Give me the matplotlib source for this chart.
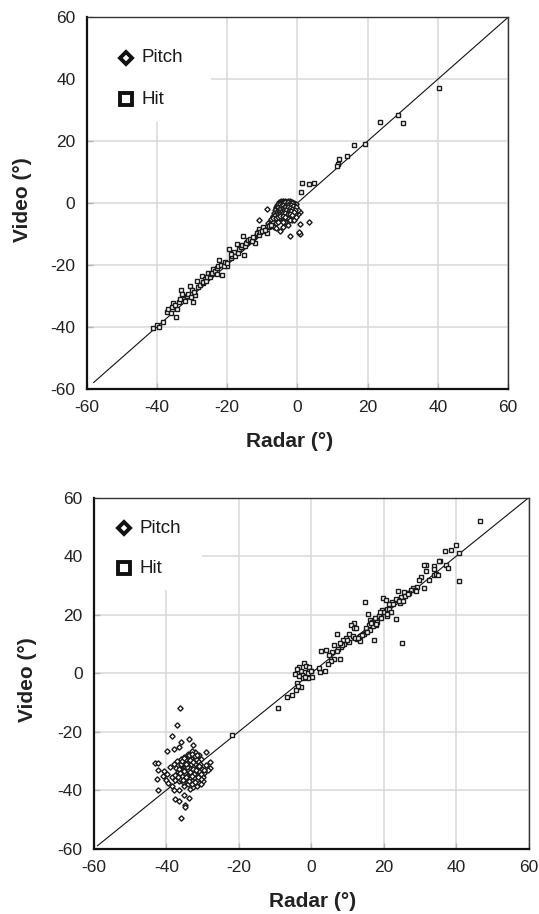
import matplotlib
matplotlib.use('Agg')
import matplotlib.pyplot as plt
from matplotlib.patches import Rectangle

plt.rcParams['font.family'] = ['Liberation Sans', 'DejaVu Sans']
plt.rcParams['axes.unicode_minus'] = False

# ---- data (degrees) ----
ticks = [-60, -40, -20, 0, 20, 40, 60]

# top panel - hit (squares)
top_hit_x = [40.4, 23.5, 28.6, 30.1, 16.2, 19.2, 14.0, 11.9, 11.7, 11.4, 1.2, 0.9, 3.4, 4.6,
             -41.2, -40.0, -39.3, -38.3, -37.2, -36.7, -35.3, -34.5, -34.2, -33.2, -32.9, -32.5,
             -30.6, -29.8, -29.1, -28.7, -27.2, -26.3, -25.4, -23.9, -22.2, -21.5, -19.9, -19.4,
             -18.0, -17.3, -15.6, -15.2, -14.2, -12.1, -11.6, -10.8, -8.7, -9.7,
             -36.0, -35.8, -34.8, -33.8, -33.5, -32.0, -31.5, -31.0, -30.2, -30.0, -29.5, -28.2,
             -27.8, -27.0, -26.8, -26.0, -25.8, -25.0, -24.5, -24.2, -23.5, -23.0, -22.8, -22.5,
             -21.8, -21.0, -20.5, -20.0, -19.0, -18.5, -18.8, -17.8, -17.0, -16.5, -16.0, -15.8,
             -15.0, -14.5, -14.0, -13.5, -13.0, -12.5, -11.0, -10.5, -10.0, -9.2, -8.0, -7.5]
top_hit_y = [37.1, 26.1, 28.3, 25.7, 18.9, 19.1, 15.2, 14.1, 12.6, 11.8, 6.4, 3.5, 6.1, 6.4,
             -40.3, -39.5, -40.0, -38.6, -35.2, -34.3, -32.2, -36.8, -34.1, -28.0, -29.3, -30.9,
             -26.8, -32.0, -29.8, -25.3, -23.6, -24.4, -22.6, -21.4, -18.5, -23.4, -20.4, -15.0,
             -15.8, -13.1, -10.7, -16.9, -12.6, -12.9, -9.6, -8.3, -9.6, -7.8,
             -35.5, -33.5, -33.0, -32.0, -31.0, -31.8, -30.0, -29.5, -30.5, -28.0, -28.8, -27.0,
             -26.5, -26.0, -25.5, -25.2, -24.0, -23.8, -23.0, -22.5, -22.0, -22.8, -21.0, -20.5,
             -20.0, -20.5, -19.0, -19.5, -17.8, -17.0, -16.5, -17.0, -16.0, -15.0, -14.2, -13.5,
             -14.0, -13.0, -12.0, -11.5, -12.2, -11.0, -10.5, -9.5, -9.0, -8.6, -7.5, -7.0]

# top panel - pitch (diamonds)
top_pitch_x = [-8.6, -10.8, -4.9, -2.1, 0.6, 0.8, 0.8, 3.4, 0.8, 0.1, -1.5, 0.5,
               -5.8, -5.2, -4.6, -4.0, -3.4, -2.8, -2.2, -1.6, -1.0, -0.5,
               -6.2, -5.5, -4.9, -4.3, -3.7, -3.1, -2.5, -1.9, -1.3, -0.7,
               -6.0, -5.3, -4.7, -4.1, -3.5, -2.9, -2.3, -1.7, -1.1, -0.4,
               -5.8, -5.1, -4.5, -3.9, -3.3, -2.7, -2.1, -1.5, -0.9, -0.3,
               -6.4, -5.6, -5.0, -4.4, -3.8, -3.2, -2.6, -2.0, -1.4, -0.8,
               -6.8, -6.0, -5.4, -4.8, -4.2, -3.6, -3.0, -2.4, -1.8, -1.2,
               -7.5, -6.5, -5.8, -5.0, -4.4, -3.6, -2.8, -2.2, -3.4, -4.2,
               -8.4, -7.8, -7.0, -6.2, -5.4, -9.0, -8.2, -7.4, -6.6, -9.6,
               -10.4, -11.5, -12.4, -11.0, -6.0, -4.0, -2.6, -1.0, -0.4, 0.2,
               -5.5, -4.8, -4.2, -3.6, -3.0, -2.4, -1.8, -1.2, -5.0, -4.4,
               -3.8, -3.2, -2.6, -2.0, -1.4, -0.6, -4.6, -3.4, -2.2, -1.0,
               -5.6, -4.9, -4.2, -3.5, -2.8, -2.1, -1.4,
               -6.1, -5.4, -4.7, -4.0, -3.3, -2.6, -1.9, -1.2, -0.5,
               -6.3, -5.6, -4.9, -4.2, -3.5, -2.8, -2.1, -1.4, -0.7,
               -6.6, -5.9, -5.2, -4.5, -3.8, -3.1, -2.4, -1.7, -1.0,
               -7.0, -6.3, -5.6, -4.9, -4.2, -3.5, -2.8, -2.1, -1.5,
               -7.6, -6.9, -6.2, -5.5, -4.8, -4.1, -3.4]
top_pitch_y = [-1.9, -5.6, -9.1, -10.8, -9.7, -10.1, -6.9, -6.2, -2.9, -3.7, -5.5, -9.5,
               -0.5, 0.2, 0.5, 0.6, 0.7, 0.6, 0.5, 0.4, 0.1, -0.4,
               -1.2, -1.0, -0.8, -0.3, -0.2, -0.1, -0.2, -0.3, -0.6, -1.0,
               -2.0, -1.8, -1.5, -1.2, -1.0, -0.9, -1.1, -1.4, -1.6, -1.9,
               -2.8, -2.6, -2.3, -2.0, -1.8, -1.9, -2.1, -2.3, -2.6, -2.8,
               -3.6, -3.5, -3.3, -3.0, -2.8, -2.7, -2.9, -3.1, -3.4, -3.6,
               -4.5, -4.4, -4.1, -3.9, -3.7, -3.6, -3.8, -4.0, -4.3, -4.6,
               -5.6, -5.2, -5.0, -4.8, -4.6, -4.8, -5.0, -5.4, -6.2, -6.0,
               -6.6, -6.8, -6.3, -6.5, -6.0, -7.6, -7.8, -7.4, -7.9, -8.5,
               -9.0, -10.0, -11.2, -8.6, -8.0, -7.8, -7.0, -5.6, -4.4, -2.2,
               -0.6, -0.1, 0.2, 0.3, 0.2, 0.0, -0.2, -0.4, -2.2, -1.6,
               -1.4, -1.2, -1.4, -1.8, -2.0, -1.4, -3.2, -3.3, -3.0, -3.0,
               -0.4, -0.3, 0.1, 0.3, 0.2, 0.1, -0.1,
               -1.5, -1.3, -1.1, -0.7, -0.5, -0.6, -0.8, -1.1, -1.4,
               -2.4, -2.2, -1.9, -1.6, -1.4, -1.4, -1.6, -1.9, -2.2,
               -3.2, -3.0, -2.8, -2.5, -2.3, -2.3, -2.5, -2.7, -3.0,
               -4.2, -4.0, -3.7, -3.4, -3.2, -3.2, -3.4, -3.6, -3.9,
               -5.2, -5.0, -4.7, -4.4, -4.2, -4.1, -4.4]

# bottom panel - hit (squares)
bot_hit_x = [46.7, 39.9, 38.5, 36.8, 40.9, 40.8, 37.2, 35.6, 35.2, 33.8, 31.6, 31.0, 31.6, 33.8,
             34.5, 30.4, 29.8, 31.0, 29.1, 28.0, 27.5, 26.5, 25.6, 24.7, 23.8, 23.3, 22.4, 21.4,
             23.9, 14.8, 19.9, 20.6, 23.3, 25.0, 17.2, 18.0, 15.6, 16.1, 19.5, 20.1, 19.0, 20.8,
             21.5, 18.6, 17.5, 16.8, 15.9, 15.2, 16.3, 14.5, 15.0, 13.5, 12.6, 11.8, 11.0, 11.9,
             10.5, 9.6, 8.7, 7.1, 9.0, 8.2, 7.5, 7.0, 6.2, 5.8, 6.3, 8.0, 5.5, 4.6, 4.8, 2.8,
             4.2, 3.8, 2.4, 2.2, 12.4, 13.5, 10.3, 11.6, 17.0, 18.2, 20.8, 22.5, 24.5, 26.0,
             27.0, 28.5, 24.2, 22.0, 18.9, 16.5, 14.0, 12.0, 9.8, 35.0, 32.5, 26.8, 25.2, 21.0,
             19.2, 17.8, 15.4, 13.0, 8.5, 7.8, 37.8, 34.0, 29.0,
             -4.6, -3.4, -2.0, -1.5, -0.7, -2.9, -1.8, -0.2, -2.5, -3.3, 0.3, -0.9, -2.2, -1.6,
             -2.8, -3.9, -4.1, -3.6, -5.4, -6.6, -9.1, -22.0, -1.0, 0.0, -3.8]
bot_hit_y = [51.9, 44.0, 42.1, 41.8, 41.0, 31.5, 37.0, 38.5, 38.2, 36.8, 37.1, 36.9, 34.8, 33.6,
             34.0, 33.0, 31.8, 29.2, 29.6, 29.0, 28.6, 27.4, 27.9, 26.2, 25.0, 25.5, 24.2, 23.5,
             28.1, 24.4, 25.6, 25.0, 18.5, 10.4, 11.3, 16.5, 20.1, 18.2, 21.5, 20.8, 20.0, 21.9,
             22.0, 19.4, 18.8, 17.4, 16.5, 15.3, 14.9, 13.4, 14.2, 12.6, 11.8, 17.0, 16.5, 15.3,
             13.3, 12.0, 11.2, 13.5, 10.0, 9.0, 8.2, 7.5, 9.6, 7.2, 5.0, 5.0, 4.1, 3.0, 6.2, 7.5,
             7.8, 0.9, 0.5, 1.9, 15.6, 11.0, 10.6, 12.8, 16.0, 17.5, 19.5, 23.5, 24.0, 26.5,
             27.5, 28.5, 24.6, 21.0, 20.8, 17.0, 13.0, 12.0, 11.5, 33.5, 32.0, 27.0, 24.8, 20.2,
             19.0, 16.8, 14.0, 12.2, 9.5, 10.2, 36.0, 35.5, 28.0,
             -0.4, 2.2, 3.4, 2.5, 2.2, 0.8, 0.5, 0.9, -0.6, -0.8, -1.4, -1.6, -1.8, -1.2,
             -4.6, -3.3, -5.7, -4.4, -7.5, -8.0, -12.0, -21.1, 0.0, 0.8, 1.5]

# bottom panel - pitch (diamonds)
bot_pitch_x = [-36.1, -37.0, -38.3, -33.7, -35.9, -38.0, -36.6, -39.9, -29.0, -32.6, -43.2, -42.3,
               -42.3, -42.5, -42.3, -28.0, -27.8, -29.9, -35.1, -33.7, -37.5, -36.6, -34.7, -34.9,
               -35.9, -40.5, -41.0, -40.0, -39.5, -38.5, -38.0, -36.5, -35.0, -33.5, -32.5, -31.5,
               -31.0, -30.0, -29.5, -28.5, -29.0, -30.5, -31.0, -32.0, -33.0, -34.0, -35.0, -36.0,
               -37.0, -38.0, -39.0, -39.8, -38.5, -37.5, -36.5,
               -36.0, -35.2, -34.5, -33.8, -33.0, -32.2, -31.5, -30.8, -34.8, -34.0, -33.2, -32.5,
               -31.8, -31.0, -35.6, -34.2, -33.4, -32.8, -32.0, -30.5, -36.8, -37.5, -36.2, -35.5,
               -34.0, -33.0, -32.0, -33.6, -34.6, -31.2, -30.2, -29.6, -35.4, -33.4, -32.6, -31.4,
               -34.4, -33.2, -32.4, -35.8, -37.2, -36.4,
               -36.6, -35.9, -35.1, -34.3, -33.5, -32.7, -31.9, -31.1, -30.3,
               -36.9, -36.1, -35.3, -34.5, -33.7, -32.9, -32.1, -31.3, -30.5,
               -35.8, -35.0, -34.2, -33.4, -32.6, -31.8, -31.0,
               -34.6, -33.8, -33.0, -32.2, -31.4]
bot_pitch_y = [-12.0, -17.8, -21.5, -22.6, -23.4, -25.8, -25.1, -26.5, -26.8, -24.6, -30.8, -30.8,
               -33.1, -36.0, -39.9, -30.3, -32.5, -36.8, -41.7, -42.5, -43.1, -43.6, -45.1, -45.6,
               -49.6, -33.5, -35.0, -36.5, -37.5, -38.5, -39.8, -39.8, -38.5, -39.5, -39.0, -38.5,
               -37.5, -35.5, -34.0, -33.0, -31.5, -29.5, -28.0, -27.0, -26.5, -27.5, -28.5, -29.5,
               -30.0, -31.0, -32.0, -34.5, -35.5, -36.5, -37.0,
               -31.5, -32.5, -30.8, -31.8, -30.5, -31.2, -32.2, -31.0, -34.0, -33.2, -34.5, -33.5,
               -34.8, -33.6, -35.2, -36.2, -35.8, -36.8, -35.9, -36.2, -33.8, -34.8, -36.0, -37.2,
               -38.0, -37.8, -29.2, -28.8, -29.6, -30.0, -32.8, -33.0, -33.0, -32.4, -32.0, -36.5,
               -35.0, -31.0, -34.4, -30.4, -32.4, -34.4,
               -32.8, -31.0, -33.6, -32.2, -33.9, -32.7, -33.1, -32.0, -34.6,
               -35.5, -34.2, -36.6, -35.6, -37.0, -35.2, -37.2, -35.4, -37.8,
               -30.0, -29.0, -30.6, -29.8, -30.2, -29.4, -31.6,
               -31.2, -28.0, -27.6, -28.4, -27.8]

W, H = 539, 914
fig = plt.figure(figsize=(W / 100, H / 100), dpi=100)


def draw_panel(rect, hit_x, hit_y, pitch_x, pitch_y, line_start, legend_box, legend_mx,
               legend_y, legend_tx, xlabel_xy, ylabel_xy):
    ax = fig.add_axes(rect)
    ax.set_xlim(-60, 60)
    ax.set_ylim(-60, 60)
    ax.set_xticks(ticks)
    ax.set_yticks(ticks)
    ax.grid(True, color='#d9d9d9', linewidth=1.1, zorder=0)
    ax.set_axisbelow(True)
    ax.tick_params(direction='in', length=4, width=1, color='#b5b5b5',
                   labelsize=12.5, labelcolor='#222222', pad=8)
    for side in ['left', 'bottom']:
        ax.spines[side].set_linewidth(1.6)
        ax.spines[side].set_color('#111111')
    for side in ['top', 'right']:
        ax.spines[side].set_linewidth(1.0)
        ax.spines[side].set_color('#333333')

    ax.plot([line_start, 60], [line_start, 60], color='#111111', linewidth=0.8, zorder=2)
    ax.plot(pitch_x, pitch_y, linestyle='none', marker='D', markersize=2.7,
            markerfacecolor='white', markeredgecolor='#1a1a1a', markeredgewidth=1.0, zorder=3)
    ax.plot(hit_x, hit_y, linestyle='none', marker='s', markersize=3.3,
            markerfacecolor='white', markeredgecolor='#1a1a1a', markeredgewidth=1.0, zorder=3)

    # legend drawn by hand: white box over the grid, no frame
    ax.add_patch(Rectangle((0, legend_box[1]), legend_box[0], 1 - legend_box[1],
                           transform=ax.transAxes, facecolor='white', edgecolor='none', zorder=1))
    ax.plot([legend_mx], [legend_y[0]], transform=ax.transAxes, marker='D', markersize=6.5,
            markerfacecolor='white', markeredgecolor='#111111', markeredgewidth=2.8, zorder=4)
    ax.plot([legend_mx], [legend_y[1]], transform=ax.transAxes, marker='s', markersize=8.5,
            markerfacecolor='white', markeredgecolor='#111111', markeredgewidth=2.8, zorder=4)
    ax.text(legend_tx, legend_y[0], 'Pitch', transform=ax.transAxes, fontsize=13.5,
            color='#1a1a1a', va='center', ha='left')
    ax.text(legend_tx, legend_y[1], 'Hit', transform=ax.transAxes, fontsize=13.5,
            color='#1a1a1a', va='center', ha='left')

    fig.text(xlabel_xy[0] / W, 1 - xlabel_xy[1] / H, 'Radar (°)', fontsize=15,
             fontweight='bold', color='#222222', ha='center', va='center')
    fig.text(ylabel_xy[0] / W, 1 - ylabel_xy[1] / H, 'Video (°)', fontsize=15,
             fontweight='bold', color='#222222', ha='center', va='center', rotation=90)
    return ax


# top panel
draw_panel([86.6 / W, 1 - 388.7 / H, 421.5 / W, 371.4 / H],
           top_hit_x, top_hit_y, top_pitch_x, top_pitch_y, -58,
           (0.294, 0.719), 0.093, (0.891, 0.779), 0.131, (290, 441.7), (22.3, 200))

# bottom panel
draw_panel([93.8 / W, 1 - 848.7 / H, 434.9 / W, 351.0 / H],
           bot_hit_x, bot_hit_y, bot_pitch_x, bot_pitch_y, -59,
           (0.249, 0.737), 0.070, (0.913, 0.799), 0.104, (312.8, 901.7), (27.5, 680))

fig.savefig('out.png', dpi=100)
